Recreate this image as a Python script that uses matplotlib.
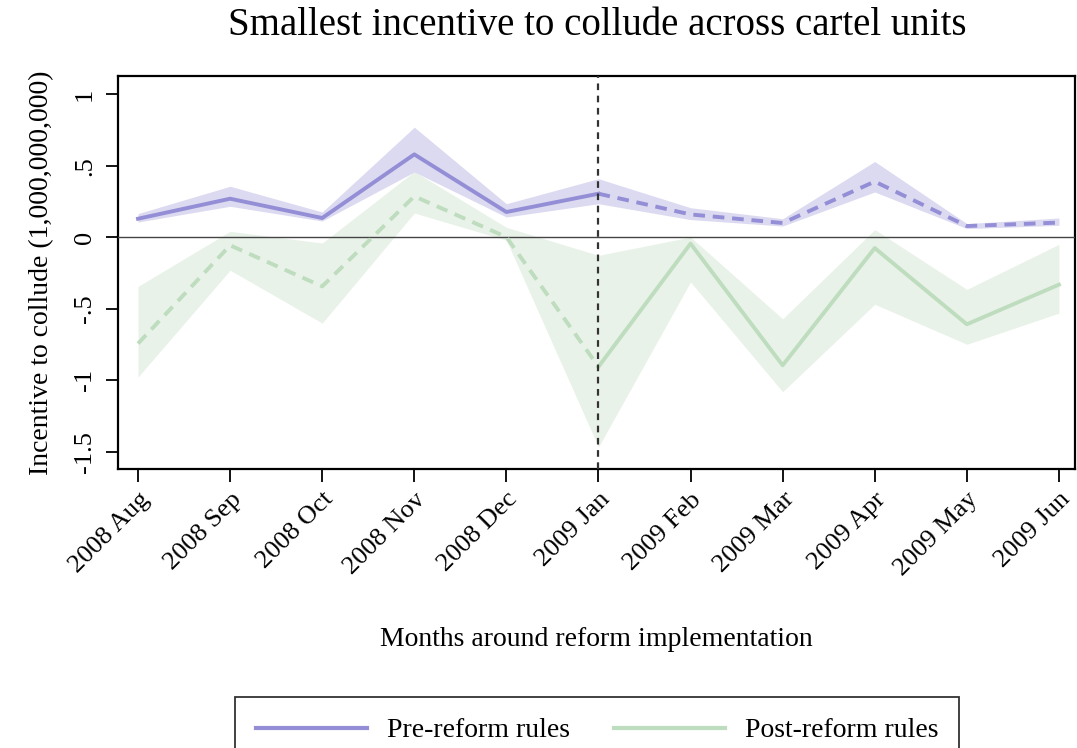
import numpy as np
import matplotlib.pyplot as plt
from matplotlib.lines import Line2D

months = ["2008 Aug", "2008 Sep", "2008 Oct", "2008 Nov", "2008 Dec", "2009 Jan",
          "2009 Feb", "2009 Mar", "2009 Apr", "2009 May", "2009 Jun"]

pre = [0.13, 0.27, 0.135, 0.58, 0.177, 0.305, 0.16, 0.10, 0.39, 0.079, 0.103]
pre_hi = [0.166, 0.357, 0.177, 0.77, 0.235, 0.41, 0.207, 0.13, 0.53, 0.096, 0.135]
pre_lo = [0.107, 0.217, 0.114, 0.457, 0.142, 0.235, 0.124, 0.079, 0.317, 0.061, 0.084]

post = [-0.743, -0.056, -0.343, 0.287, 0.002, -0.905, -0.044, -0.895, -0.075, -0.608, -0.331]
post_hi = [-0.343, 0.042, -0.04, 0.46, 0.07, -0.126, 0.002, -0.57, 0.054, -0.364, -0.049]
post_lo = [-0.977, -0.23, -0.60, 0.17, -0.02, -1.466, -0.312, -1.08, -0.468, -0.748, -0.53]

reform = 5  # index of 2009 Jan

yticks = [1, 0.5, 0, -0.5, -1, -1.5]
ylabels = ["1", ".5", "0", "-.5", "-1", "-1.5"]

purple = "#938ed6"
purple_band = "#dcdaf0"
green = "#bedcbe"
green_band = "#e9f2e9"

plt.rcParams['font.family'] = ['Liberation Serif', 'DejaVu Serif']

fig = plt.figure(figsize=(10.77, 7.48), dpi=100)
ax = fig.add_axes([0.1096, 0.373, 0.889, 0.525])

x = np.arange(len(months))
ax.fill_between(x, post_lo, post_hi, color=green_band, lw=0, zorder=1)
ax.fill_between(x, pre_lo, pre_hi, color=purple_band, lw=0, zorder=2)
ax.axhline(0, color="#444444", lw=1.0, zorder=3)

lw = 2.8
ax.plot(x[:reform + 1], post[:reform + 1], color=green, lw=lw, ls=(0, (3, 2)), zorder=4)
ax.plot(x[reform:], post[reform:], color=green, lw=lw, zorder=4)
ax.plot(x[:reform + 1], pre[:reform + 1], color=purple, lw=lw, zorder=5)
ax.plot(x[reform:], pre[reform:], color=purple, lw=lw, ls=(0, (3, 2)), zorder=5)

ax.axvline(reform, color="#333333", lw=1.6, ls=(0, (3, 2.5)), zorder=6)

ax.set_xlim(-0.217, 10.18)
ax.set_ylim(-1.62, 1.126)
ax.set_xticks(x)
ax.set_xticklabels(months, rotation=45, ha="right", rotation_mode="anchor", fontsize=19)
ax.set_yticks(yticks)
ax.set_yticklabels(ylabels, rotation=90, va="center", fontsize=19)
ax.tick_params(axis="both", direction="out", length=9, width=1.3, color="black")
ax.tick_params(axis="x", pad=5)
ax.tick_params(axis="y", pad=7)
for s in ax.spines.values():
    s.set_linewidth(1.6)

ax.set_ylabel("Incentive to collude (1,000,000,000)", fontsize=20, labelpad=14)
ax.set_xlabel("Months around reform implementation", fontsize=20, labelpad=34)
ax.set_title("Smallest incentive to collude across cartel units", fontsize=28, pad=30)

handles = [Line2D([], [], color=purple, lw=3), Line2D([], [], color=green, lw=3)]
leg = fig.legend(handles, ["Pre-reform rules", "Post-reform rules"], loc="upper center",
                 bbox_to_anchor=(0.5545, 0.068), ncol=2, fontsize=20, frameon=True,
                 fancybox=False, edgecolor="black", handlelength=4.0, columnspacing=1.6,
                 handletextpad=0.7, borderpad=0.75, borderaxespad=0)
leg.get_frame().set_linewidth(1.3)

fig.savefig("out.png", dpi=100)
